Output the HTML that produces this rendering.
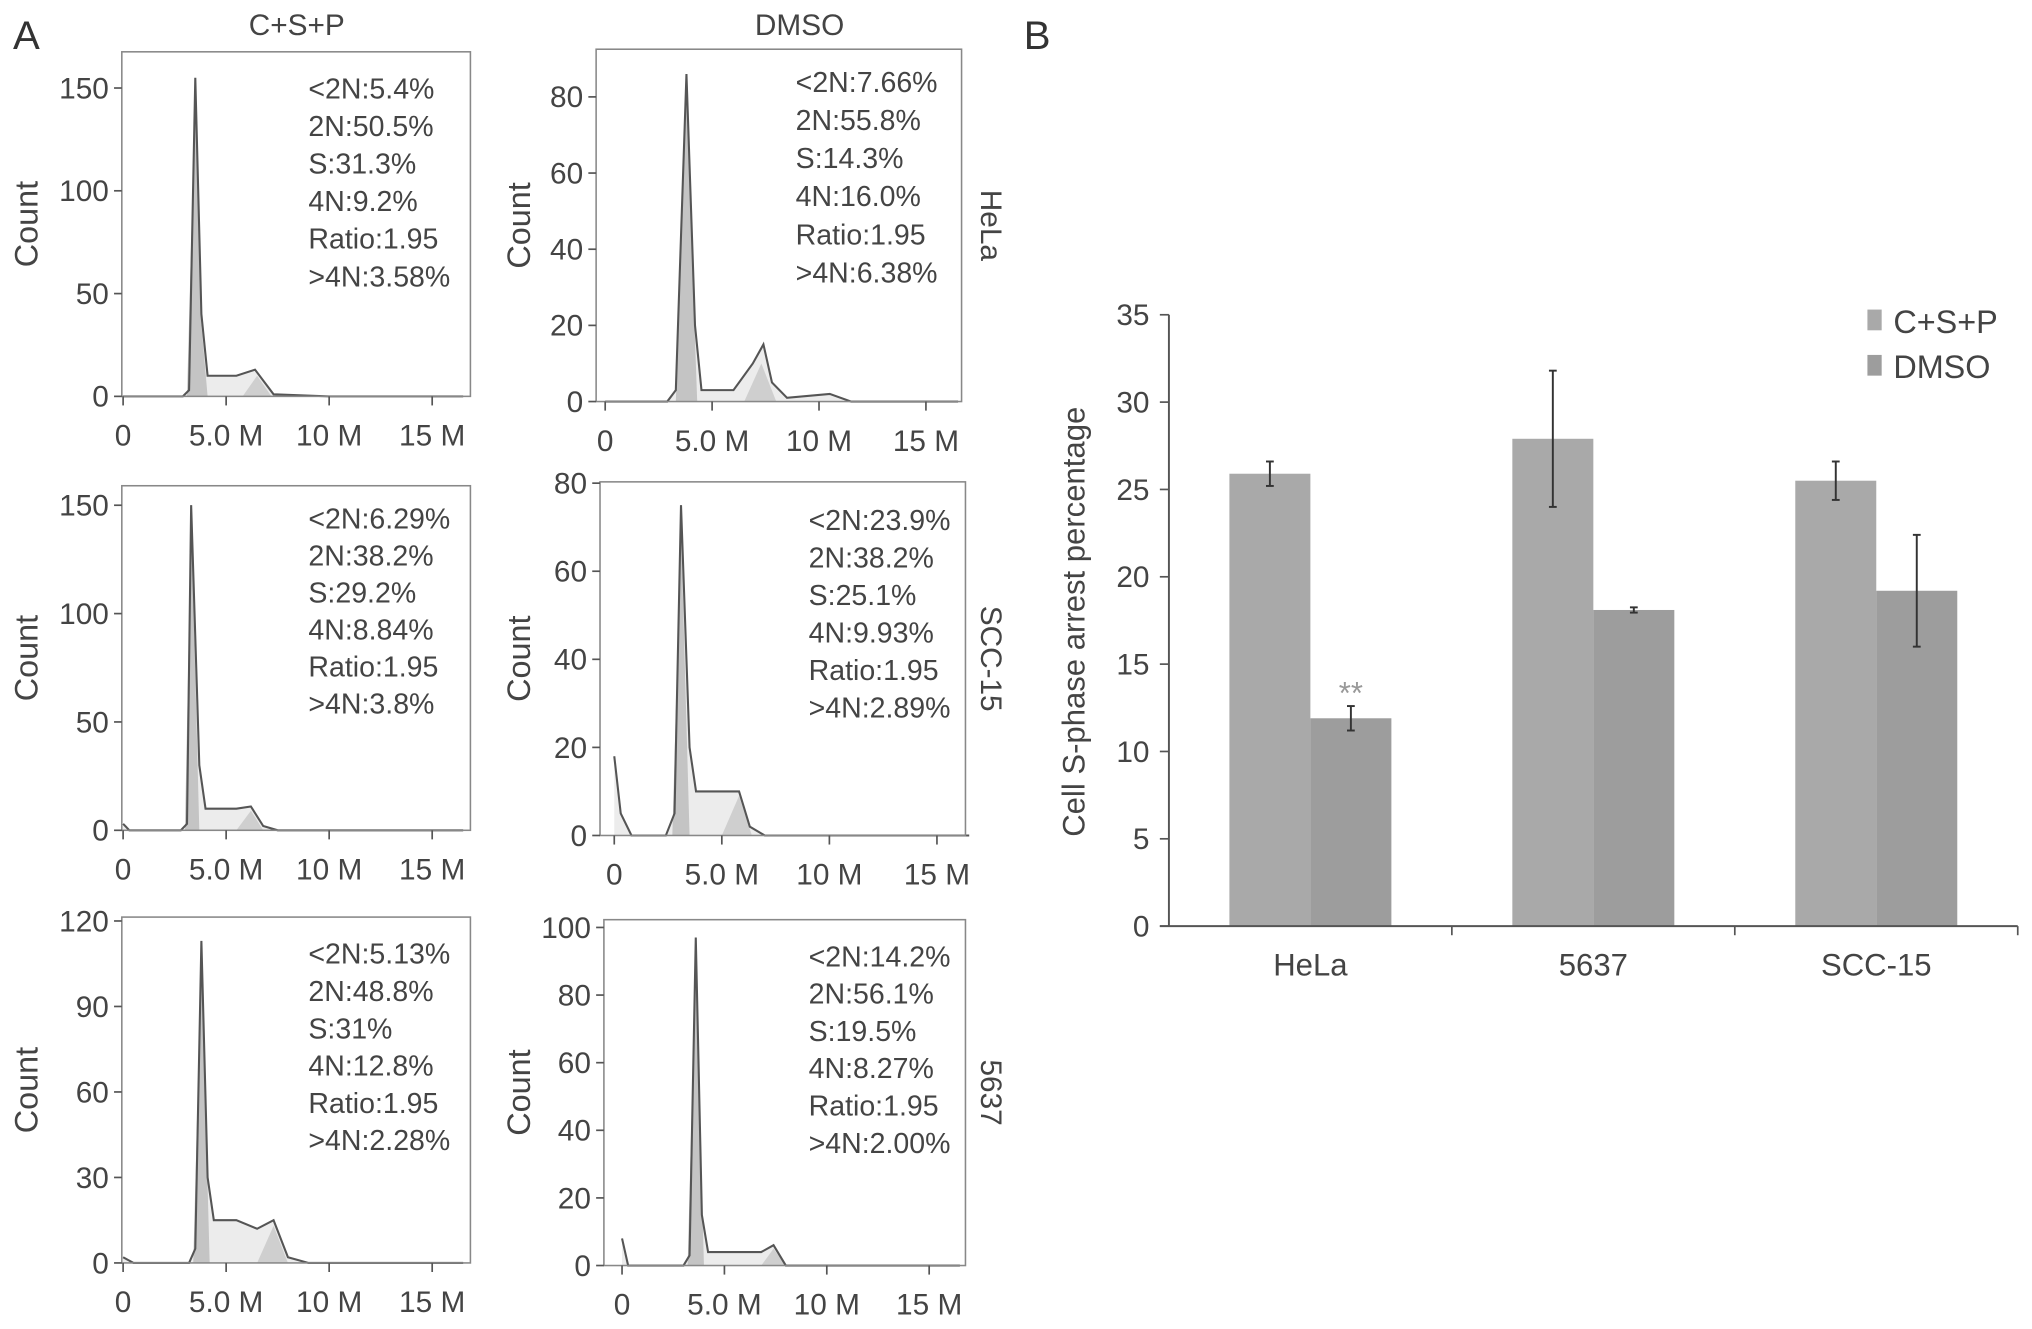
<!DOCTYPE html>
<html><head><meta charset="utf-8"><style>
html,body{margin:0;padding:0;background:#fff}
svg{display:block;font-family:"Liberation Sans",sans-serif}
</style></head><body>
<svg id="fig" width="2032" height="1329" viewBox="0 0 1568 1026" preserveAspectRatio="none" xmlns="http://www.w3.org/2000/svg">
<text x="10" y="38" font-size="31" fill="#333">A</text>
<text x="790" y="38" font-size="31" fill="#333">B</text>
<text x="229" y="27" font-size="23" fill="#444" text-anchor="middle">C+S+P</text>
<text x="617" y="27" font-size="23" fill="#444" text-anchor="middle">DMSO</text>
<g id="hists"></g>
<g id="barchart"></g>
</svg>
<script>
const NS="http://www.w3.org/2000/svg";
// ---- Panel A data ----
const histNames=["hela-csp","hela-dmso","scc15-csp","scc15-dmso","5637-csp","5637-dmso"];
const histOutline1=[[0,0],[2.9,0],[3.2,3],[3.5,155],[3.8,40],[4.1,10],[5.5,10],[6.4,13],[7.3,1],[10,0],[16.5,0]];
const histOutline2=[[0,0],[2.9,0],[3.3,3],[3.8,86],[4.2,20],[4.5,3],[6,3],[6.9,10],[7.4,15],[7.8,5],[8.5,1],[10.5,2],[11.5,0],[16.5,0]];
const histOutline3=[[0,3],[0.3,0],[2.8,0],[3.1,3],[3.3,150],[3.7,30],[4.0,10],[5.5,10],[6.2,11],[6.8,2],[7.5,0],[16.5,0]];
const histOutline4=[[0,18],[0.3,5],[0.8,0],[2.4,0],[2.8,5],[3.1,75],[3.5,20],[3.8,10],[5.0,10],[5.8,10],[6.3,2],[7,0],[16.5,0]];
const histOutline5=[[0,2],[0.5,0],[3.2,0],[3.5,5],[3.8,113],[4.1,30],[4.4,15],[5.5,15],[6.5,12],[7.3,15],[8.0,2],[9,0],[16.5,0]];
const histOutline6=[[0,8],[0.3,0],[3.0,0],[3.3,3],[3.6,97],[3.9,15],[4.2,4],[5.5,4],[6.8,4],[7.4,6],[8,0],[16.5,0]];
const histG1=[[[3.1,0],[3.5,150],[3.8,35],[4.1,0]],[[3.3,0],[3.8,80],[4.3,0]],[[3.0,0],[3.3,145],[3.7,0]],[[2.7,0],[3.1,70],[3.5,0]],[[3.4,0],[3.8,108],[4.2,0]],[[3.2,0],[3.6,92],[4.0,0]]];
const histG2=[[[5.8,0],[6.5,10],[7.2,0]],[[6.5,0],[7.3,10],[8,0]],[[5.5,0],[6.2,9],[6.8,0]],[[5.0,0],[5.8,9],[6.4,0]],[[6.5,0],[7.3,13],[8.0,0]],[[6.8,0],[7.4,5],[8,0]]];
const histYTicks=[[0,50,100,150],[0,20,40,60,80],[0,50,100,150],[0,20,40,60,80],[0,30,60,90,120],[0,20,40,60,80,100]];
const histXTicks=[0,5,10,15];
const histXLabels=["0","5.0 M","10 M","15 M"];
const histStats=[
["<2N:5.4%","2N:50.5%","S:31.3%","4N:9.2%","Ratio:1.95",">4N:3.58%"],
["<2N:7.66%","2N:55.8%","S:14.3%","4N:16.0%","Ratio:1.95",">4N:6.38%"],
["<2N:6.29%","2N:38.2%","S:29.2%","4N:8.84%","Ratio:1.95",">4N:3.8%"],
["<2N:23.9%","2N:38.2%","S:25.1%","4N:9.93%","Ratio:1.95",">4N:2.89%"],
["<2N:5.13%","2N:48.8%","S:31%","4N:12.8%","Ratio:1.95",">4N:2.28%"],
["<2N:14.2%","2N:56.1%","S:19.5%","4N:8.27%","Ratio:1.95",">4N:2.00%"]];
const rowLabels=["HeLa","SCC-15","5637"];
const outlines=[histOutline1,histOutline2,histOutline3,histOutline4,histOutline5,histOutline6];
// layout (not data)
const L=[
{bx:94,br:363,bt:40,y0:306,ppu:1.587,x0:95,ppm:15.9,tx:238,ty:68,sp:29},
{bx:460,br:742,bt:38,y0:310,ppu:2.94,x0:467,ppm:16.5,tx:614,ty:63,sp:29.4},
{bx:94,br:363,bt:375,y0:641,ppu:1.673,x0:95,ppm:15.9,tx:238,ty:400,sp:28.6},
{bx:463,br:745,bt:372,y0:645,ppu:3.4,x0:474,ppm:16.6,tx:624,ty:401,sp:29},
{bx:94,br:363,bt:708,y0:975,ppu:2.2,x0:95,ppm:15.9,tx:238,ty:736,sp:28.8},
{bx:466,br:745,bt:710,y0:977,ppu:2.61,x0:480,ppm:15.8,tx:624,ty:738,sp:28.8}];
function mk(tag,attrs,parent,txt){const e=document.createElementNS(NS,tag);for(const k in attrs)e.setAttribute(k,attrs[k]);if(txt!==undefined)e.textContent=txt;parent.appendChild(e);return e;}
const H=document.getElementById('hists');
for(let i=0;i<6;i++){
  const l=L[i];
  const g=mk('g',{},H);
  
  
  const sx=v=>l.x0+v*l.ppm, sy=v=>l.y0-v*l.ppu;
  const pts=a=>a.map(p=>sx(p[0]).toFixed(1)+','+sy(p[1]).toFixed(1)).join(' ');
  const o=outlines[i];
  const fillPts=sx(o[0][0])+','+l.y0+' '+pts(o)+' '+sx(o[o.length-1][0])+','+l.y0;
  const fill=mk('polygon',{points:fillPts,fill:'#ececec'},g);
  
  
  const g1=mk('polygon',{points:pts(histG1[i]),fill:'#c4c4c4'},g);
  
  
  const g2=mk('polygon',{points:pts(histG2[i]),fill:'#cfcfcf'},g);
  
  
  const ol=mk('polyline',{points:pts(o),fill:'none',stroke:'#555','stroke-width':1.6},g);
  
  
  const box=mk('rect',{x:l.bx,y:l.bt,width:l.br-l.bx,height:l.y0-l.bt,fill:'none',stroke:'#888','stroke-width':1.2},g);
  
  
  histYTicks[i].forEach(t=>{
    mk('line',{x1:l.bx-6,x2:l.bx,y1:sy(t),y2:sy(t),stroke:'#555','stroke-width':1.3},g);
    const tl=mk('text',{x:l.bx-10,y:sy(t)+8,'font-size':23,'text-anchor':'end',fill:'#444'},g,String(t));
    
    
  });
  histXTicks.forEach((t,k)=>{
    mk('line',{x1:sx(t),x2:sx(t),y1:l.y0,y2:l.y0+7,stroke:'#555','stroke-width':1.3},g);
    const tl=mk('text',{x:sx(t),y:l.y0+38,'font-size':23,'text-anchor':'middle',fill:'#444'},g,histXLabels[k]);
    
    
  });
  const cx=i%2==0?20:400, cy=(l.bt+l.y0)/2;
  const ct=mk('text',{x:cx,y:cy,'font-size':25,'text-anchor':'middle',fill:'#444',transform:`rotate(-90 ${cx} ${cy})`,dy:9},g,'Count');
  
  
  histStats[i].forEach((s,k)=>{
    const st=mk('text',{x:l.tx,y:l.ty+k*l.sp+8,'font-size':22,fill:'#444'},g,s);
    
    
  });
  if(i%2==1){
    const rx=757, ry=cy;
    const rl=mk('text',{x:rx,y:ry,'font-size':23,'text-anchor':'middle',fill:'#444',transform:`rotate(90 ${rx} ${ry})`},g,rowLabels[(i-1)/2]);
    
    
  }
}
// ---- Panel B data ----
const categories=["HeLa","5637","SCC-15"];
const cspValues=[25.9,27.9,25.5];
const dmsoValues=[11.9,18.1,19.2];
const cspErr=[0.7,3.9,1.1];
const dmsoErr=[0.7,0.15,3.2];
const bTicks=[0,5,10,15,20,25,30,35];
const B=document.getElementById('barchart');
const ax={x0:902,x1:1557,y0:715,y35:243};
const by=v=>ax.y0-(v/35)*(ax.y0-ax.y35);
const gw=(ax.x1-ax.x0)/categories.length;
const bw=62.5;
bTicks.forEach(t=>{
  mk('line',{x1:ax.x0-7,x2:ax.x0,y1:by(t),y2:by(t),stroke:'#555','stroke-width':1.3},B);
  const tl=mk('text',{x:ax.x0-15,y:by(t)+8,'font-size':23,'text-anchor':'end',fill:'#444'},B,String(t));
  
  
});
categories.forEach((c,i)=>{
  const cx=ax.x0+gw*(i+0.5);
  const b1=mk('rect',{x:cx-bw,y:by(cspValues[i]),width:bw,height:ax.y0-by(cspValues[i]),fill:'#a9a9a9'},B);
  
  
  const b2=mk('rect',{x:cx,y:by(dmsoValues[i]),width:bw,height:ax.y0-by(dmsoValues[i]),fill:'#9d9d9d'},B);
  
  
  [[cx-bw/2,cspValues[i],cspErr[i]],[cx+bw/2,dmsoValues[i],dmsoErr[i]]].forEach(e=>{
    const eg=mk('g',{stroke:'#333','stroke-width':1.5},B);
    
    
    mk('line',{x1:e[0],x2:e[0],y1:by(e[1]-e[2]),y2:by(e[1]+e[2])},eg);
    mk('line',{x1:e[0]-3,x2:e[0]+3,y1:by(e[1]-e[2]),y2:by(e[1]-e[2])},eg);
    mk('line',{x1:e[0]-3,x2:e[0]+3,y1:by(e[1]+e[2]),y2:by(e[1]+e[2])},eg);
  });
  const xl=mk('text',{x:cx,y:ax.y0+38,'font-size':24,'text-anchor':'middle',fill:'#444'},B,c);
  
  
  mk('line',{x1:ax.x0+gw*(i+1),x2:ax.x0+gw*(i+1),y1:ax.y0,y2:ax.y0+7,stroke:'#555','stroke-width':1.3},B);
});
const sig=mk('text',{x:ax.x0+gw*0.5+bw/2,y:by(dmsoValues[0]+dmsoErr[0])-2,'font-size':24,'text-anchor':'middle',fill:'#999'},B,'**');


const yl=mk('line',{x1:ax.x0,x2:ax.x0,y1:ax.y35,y2:ax.y0,stroke:'#555','stroke-width':1.5},B);


const xl=mk('line',{x1:ax.x0-7,x2:ax.x1,y1:ax.y0,y2:ax.y0,stroke:'#555','stroke-width':1.5},B);


const yt=mk('text',{x:837,y:480,'font-size':24,'text-anchor':'middle',fill:'#444',transform:'rotate(-90 837 480)'},B,'Cell S-phase arrest percentage');


[["C+S+P",'#a9a9a9',248],["DMSO",'#9d9d9d',283]].forEach(d=>{
  const lg=mk('g',{},B);
  
  
  mk('rect',{x:1441,y:d[2]-9,width:11,height:16,fill:d[1]},lg);
  mk('text',{x:1461,y:d[2]+9,'font-size':25,fill:'#444'},lg,d[0]);
});
</script>
</body></html>
